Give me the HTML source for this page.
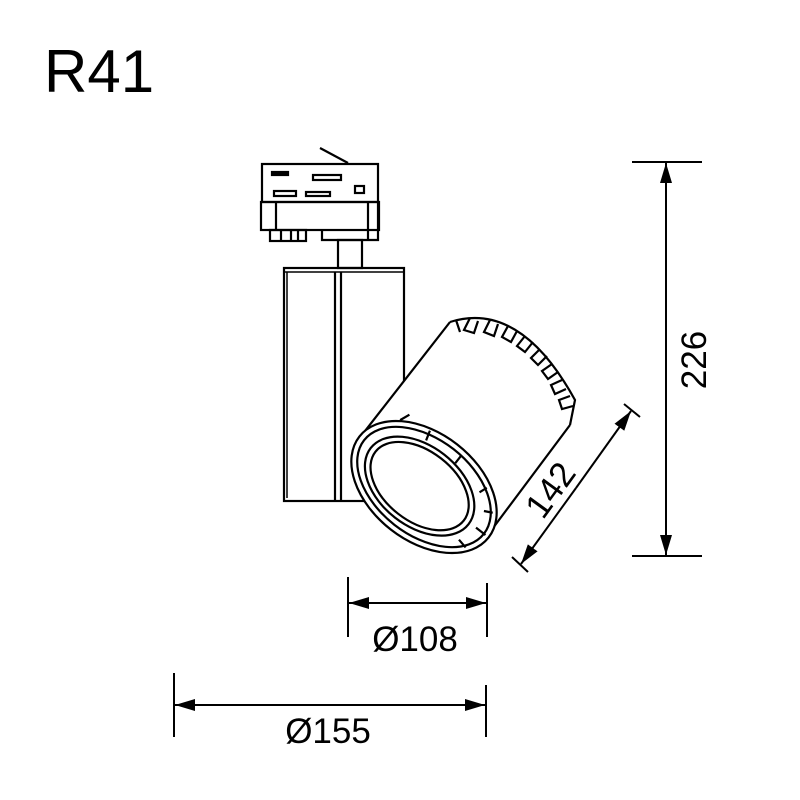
<!DOCTYPE html>
<html><head><style>body{margin:0;background:#fff}svg{display:block}</style></head><body>
<svg width="800" height="800" viewBox="0 0 800 800" xmlns="http://www.w3.org/2000/svg" font-family="Liberation Sans, sans-serif">
<defs>
<marker id="a" markerWidth="20" markerHeight="12" refX="20" refY="6" orient="auto" markerUnits="userSpaceOnUse"><path d="M0,0 L20,6 L0,12 Z" fill="#000"/></marker>
</defs>
<text x="44" y="92" font-size="60">R41</text>
<g fill="none" stroke="#000" stroke-width="2.2">
<line x1="320" y1="148" x2="348" y2="163"/>
<rect x="262" y="164" width="116" height="38" fill="#fff"/>
<rect x="272" y="172" width="16" height="3" fill="#000"/>
<rect x="313" y="175" width="28" height="5"/>
<rect x="274" y="191" width="22" height="5"/>
<rect x="306" y="192" width="24" height="4"/>
<rect x="355" y="186" width="9" height="7"/>
<rect x="261" y="202" width="118" height="28"/>
<line x1="276" y1="202" x2="276" y2="230"/>
<line x1="368" y1="202" x2="368" y2="240"/>
<path d="M322,230 V240 H378 V202"/>
<rect x="270" y="230" width="36" height="11"/>
<line x1="281" y1="230" x2="281" y2="241"/><line x1="291" y1="230" x2="291" y2="241"/><line x1="298" y1="230" x2="298" y2="241"/>
<rect x="338" y="240" width="24" height="28"/>
<rect x="284" y="268" width="120" height="233"/>
<line x1="287" y1="272" x2="287" y2="498" stroke-width="1.5"/>
<line x1="335" y1="272" x2="335" y2="500"/><line x1="341" y1="272" x2="341" y2="500"/>
<line x1="284" y1="272" x2="404" y2="272" stroke-width="1.5"/>
<path d="M450,322 L358,440 L490,532 L570,425" fill="#fff"/>
<path d="M450,322 Q520,300 575,400 L570,425" />
<path d="M456,320 l4,12 M470,318 l-6,12 l10,3 l4,-12 M490,320 l-6,12 l10,4 l4,-12 M508,326 l-6,11 l9,5 l6,-11 M525,336 l-8,10 l8,6 l8,-10 M540,349 l-9,9 l7,7 l9,-9 M552,364 l-10,7 l6,8 l10,-7 M562,380 l-11,5 l4,9 l11,-5 M570,396 l-11,4 l3,9 l11,-3"/>
<g transform="translate(424,487) rotate(38)">
<ellipse rx="82" ry="54" fill="#fff"/>
<ellipse rx="76" ry="48"/>
<ellipse cx="-4" cy="2" rx="62" ry="40"/>
<ellipse cx="-4" cy="2" rx="56" ry="35"/>
<path d="M-60,-38 l4,-10 M-30,-48 l3,10 M10,-48 l0,10 M50,-38 l-3,8 M70,-22 l-8,4 M78,0 l-12,0 M70,22 l-10,-2"/>
</g>
</g>
<g stroke="#000" stroke-width="2" fill="none">
<line x1="348" y1="577" x2="348" y2="637"/><line x1="487" y1="583" x2="487" y2="637"/>
<line x1="418" y1="603" x2="349" y2="603" marker-end="url(#a)"/><line x1="418" y1="603" x2="486" y2="603" marker-end="url(#a)"/>
<line x1="174" y1="673" x2="174" y2="737"/><line x1="486" y1="685" x2="486" y2="737"/>
<line x1="330" y1="705" x2="175" y2="705" marker-end="url(#a)"/><line x1="330" y1="705" x2="485" y2="705" marker-end="url(#a)"/>
<line x1="632" y1="162" x2="702" y2="162"/><line x1="632" y1="556" x2="702" y2="556"/>
<line x1="666" y1="360" x2="666" y2="163" marker-end="url(#a)"/><line x1="666" y1="360" x2="666" y2="555" marker-end="url(#a)"/>
<line x1="512" y1="557" x2="528" y2="572"/><line x1="624" y1="404" x2="640" y2="417"/>
<line x1="576" y1="488" x2="521" y2="564" marker-end="url(#a)"/><line x1="576" y1="488" x2="631" y2="411" marker-end="url(#a)"/>
</g>
<g font-size="35" fill="#000">
<text x="415" y="651" text-anchor="middle">Ø108</text>
<text x="328" y="743" text-anchor="middle">Ø155</text>
<text transform="translate(706,360) rotate(-90)" text-anchor="middle">226</text>
<text transform="translate(560,497) rotate(-54)" text-anchor="middle">142</text>
</g>
</svg>
</body></html>
